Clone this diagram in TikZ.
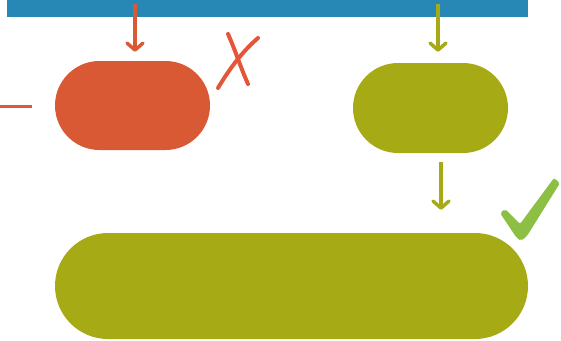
\documentclass[tikz,border=0pt]{standalone}
\usetikzlibrary{shapes.misc,arrows.meta}
\definecolor{barblue}{HTML}{2888B5}
\definecolor{pillred}{HTML}{D95935}
\definecolor{crossred}{HTML}{E4553A}
\definecolor{pillgreen}{HTML}{A6AA14}
\definecolor{checkgreen}{HTML}{8CBF44}
\tikzset{
  pill/.style={rounded rectangle, inner sep=0pt, draw=none},
  arr/.style={line width=3.5pt, -{Straight Barb[length=7pt,width=16pt,round]}},
}
\begin{document}
\begin{tikzpicture}[x=1pt,y=-1pt]
\useasboundingbox (0,0) rectangle (561,340);
\node[fill=barblue, inner sep=0pt, minimum width=521pt, minimum height=17pt, anchor=north west] (bar) at (7,0) {};
\node[pill, fill=pillred, minimum width=155pt, minimum height=89pt] (rp) at (132.5,105.5) {};
\node[pill, fill=pillgreen, minimum width=155pt, minimum height=90pt] (gp) at (430.5,108) {};
\node[pill, fill=pillgreen, minimum width=473pt, minimum height=106pt] (big) at (291.5,286) {};
\draw[arr, pillred] ([xshift=2.5pt,yshift=-4pt]rp.north |- bar.north) -- ([xshift=2.5pt,yshift=9pt]rp.north);
\draw[arr, pillgreen] ([xshift=7.5pt,yshift=-4pt]gp.north |- bar.north) -- ([xshift=7.5pt,yshift=11pt]gp.north);
\draw[arr, pillgreen] ([xshift=10.5pt,yshift=-9pt]gp.south) -- ([xshift=10.5pt,yshift=23pt]gp.south |- big.north);
% left dash
\draw[crossred, line width=3pt] (0,106) -- (32,106);
% cross
\draw[crossred, line width=4pt, line cap=round] (228,34) .. controls (236,52) and (240,66) .. (248,84);
\draw[crossred, line width=4pt, line cap=round] (258,38) .. controls (242,52) and (230,68) .. (218,88);
% check mark
\fill[checkgreen, rounded corners=2pt] (500,213) -- (505,209) -- (520,224) -- (554,178) -- (560,183)
  -- (527,236) -- (521,241) -- (516,237) -- cycle;
\end{tikzpicture}
\end{document}
